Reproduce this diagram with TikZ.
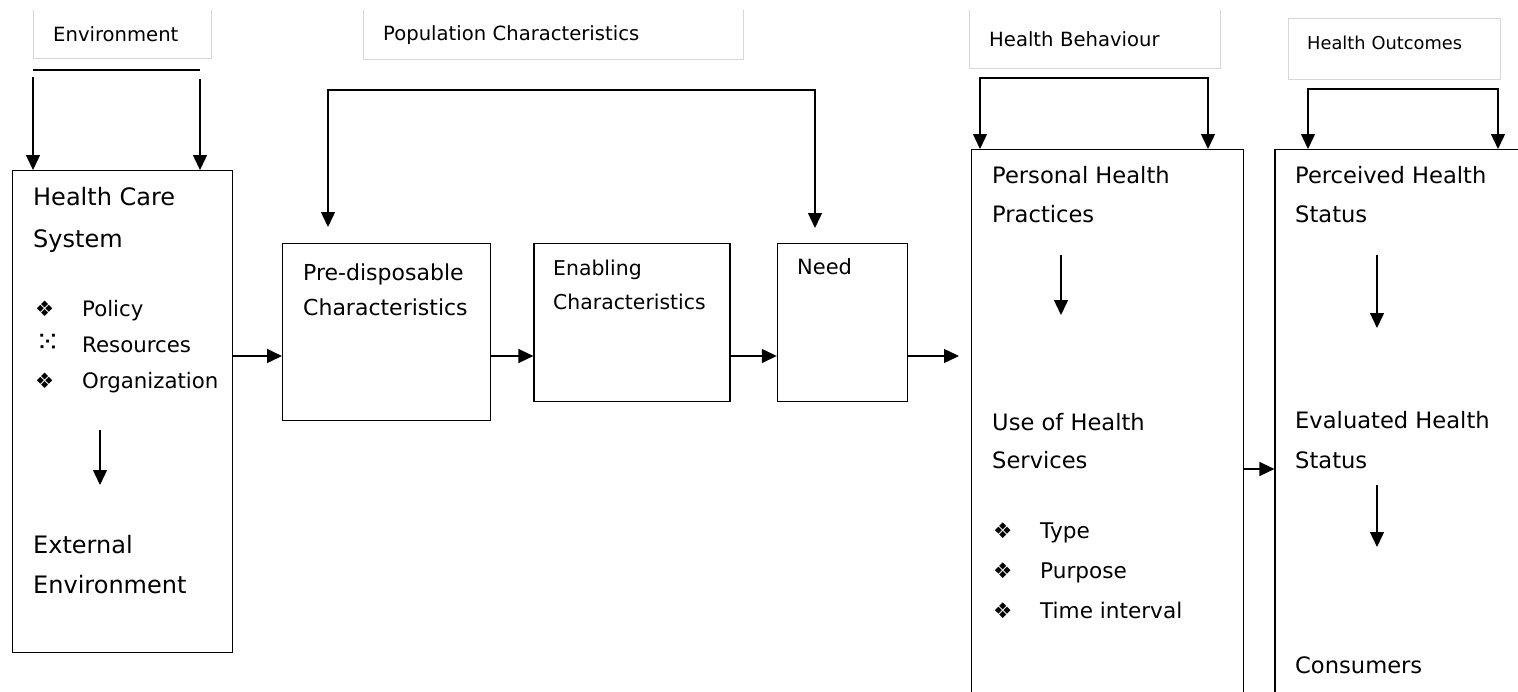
\documentclass[tikz,border=0pt]{standalone}
\usepackage{fontspec}
\setmainfont{DejaVu Sans}
\usetikzlibrary{arrows.meta, positioning}

\begin{document}
\begin{tikzpicture}[x=1pt, y=-1pt, >={Triangle[length=15pt, width=14pt]},
    box/.style={draw, line width=1.4pt, anchor=north west, inner sep=0pt},
    hdr/.style={anchor=north west, inner xsep=20pt, inner ysep=0pt, align=left},
    hdrline/.style={draw=black!16, line width=1pt},
    lbl/.style={anchor=base west, inner sep=0pt, align=left},
    conn/.style={line width=1.4pt}]
\useasboundingbox (0,0) rectangle (1518,691);

% headings
\node (envh) [hdr, minimum width=178pt, minimum height=48pt, text width=138pt, font=\fontsize{19.6}{24}\selectfont] at (33,10) {Environment};
\node (poph) [hdr, minimum width=380pt, minimum height=49pt, text width=340pt, font=\fontsize{19.6}{24}\selectfont] at (363,10) {Population Characteristics};
\node (behh) [hdr, minimum width=251pt, minimum height=58pt, text width=211pt, font=\fontsize{19.6}{24}\selectfont] at (969,10) {Health Behaviour};
\node (outh) [hdr, minimum width=212pt, minimum height=61pt, text width=174pt, inner xsep=19pt, text depth=12pt, font=\fontsize{17.8}{22}\selectfont] at (1288,18) {Health Outcomes};
\draw[hdrline] (envh.north west) -- (envh.south west) -- (envh.south east) -- (envh.north east);
\draw[hdrline] (poph.north west) -- (poph.south west) -- (poph.south east) -- (poph.north east);
\draw[hdrline] (behh.north west) -- (behh.south west) -- (behh.south east) -- (behh.north east);
\draw[hdrline] (outh.north west) rectangle (outh.south east);

% boxes
\node (hcs) [box, minimum width=220pt, minimum height=482pt] at (12,170) {};
\node (predis) [box, minimum width=208pt, minimum height=177pt] at (282,243) {};
\node (enab) [box, minimum width=196pt, minimum height=158pt, right=42pt of predis.north east, anchor=north west] {};
\node (need) [box, minimum width=130pt, minimum height=158pt, right=46pt of enab.north east, anchor=north west] {};
\node (behav) [box, minimum width=272pt, minimum height=560pt] at (971,149) {};
\node (outc) [box, minimum width=260pt, minimum height=560pt, right=30pt of behav.north east, anchor=north west] {};

% texts (placed at the baseline of their last line)
\node (hcst) [lbl, font=\fontsize{24}{42}\selectfont] at (33,247) {Health Care\\System};
\node (hcsbul) [lbl, font=\fontsize{21.3}{36}\selectfont] at (35,388)
    {\makebox[47pt][l]{❖}Policy\\\makebox[47pt][l]{\fontsize{30}{30}\selectfont⁙}Resources\\\makebox[47pt][l]{❖}Organization};
\node (extt) [lbl, font=\fontsize{24}{40}\selectfont] at (33,593) {External\\Environment};
\node (predist) [lbl, font=\fontsize{22}{35}\selectfont] at (303,315) {Pre-disposable\\Characteristics};
\node (enabt) [lbl, font=\fontsize{20.4}{34}\selectfont] at (553,309) {Enabling\\Characteristics};
\node (needt) [lbl, font=\fontsize{21}{26}\selectfont] at (797,274) {Need};
\node (behat) [lbl, font=\fontsize{22.6}{39}\selectfont] at (992,222) {Personal Health\\Practices};
\node (uset) [lbl, font=\fontsize{22.6}{38}\selectfont] at (992,468) {Use of Health\\Services};
\node (behbul) [lbl, font=\fontsize{21.6}{40}\selectfont] at (993,618)
    {\makebox[47pt][l]{❖}Type\\\makebox[47pt][l]{❖}Purpose\\\makebox[47pt][l]{❖}Time interval};
\node (outct) [lbl, font=\fontsize{22.6}{39}\selectfont] at (1295,222) {Perceived Health\\Status};
\node (evalt) [lbl, font=\fontsize{22.6}{40}\selectfont] at (1295,468) {Evaluated Health\\Status};
\node (const) [lbl, font=\fontsize{22.6}{28}\selectfont] at (1295,673) {Consumers};

% environment arrows
\coordinate (envl) at (33,70);
\coordinate (envr) at (200,70);
\draw[conn] (envl) -- (envr);
\draw[conn, ->] (envl) ++(0,7) -- (envl |- hcs.north);
\draw[conn, ->] (envr) ++(0,9) -- (envr |- hcs.north);

% brackets
\coordinate (popl) at (328,90);
\coordinate (popr) at (815,90);
\draw[conn, <->, shorten <=16pt, shorten >=15pt] (popl |- predis.north) |- (popr) -- (popr |- need.north);
\coordinate (behl) at (980,78);
\coordinate (behr) at (1208,78);
\draw[conn, <->] (behl |- behav.north) |- (behr) -- (behr |- behav.north);
\coordinate (outl) at (1308,89);
\coordinate (outr) at (1498,89);
\draw[conn, <->] (outl |- outc.north) |- (outr) -- (outr |- outc.north);

% flow
\coordinate (flow) at (0,356);
\draw[conn, ->] (hcs.east |- flow) -- (predis.west |- flow);
\draw[conn, ->] (predis.east |- flow) -- (enab.west |- flow);
\draw[conn, ->] (enab.east |- flow) -- (need.west |- flow);
\draw[conn, ->, shorten >=12pt] (need.east |- flow) -- (behav.west |- flow);
\coordinate (flow2) at (0,469);
\draw[conn, ->] (behav.east |- flow2) -- (outc.west |- flow2);

% inner arrows
\coordinate (hcsa) at (100,430);
\coordinate (hcsb) at (100,485);
\draw[conn, ->] (hcsa) -- (hcsb);
\coordinate (beha) at (1061,255);
\coordinate (behb) at (1061,315);
\draw[conn, ->] (beha) -- (behb);
\coordinate (outa) at (1377,255);
\coordinate (outb) at (1377,328);
\draw[conn, ->] (outa) -- (outb);
\coordinate (outc1) at (1377,485);
\coordinate (outd) at (1377,547);
\draw[conn, ->] (outc1) -- (outd);
\end{tikzpicture}
\end{document}
